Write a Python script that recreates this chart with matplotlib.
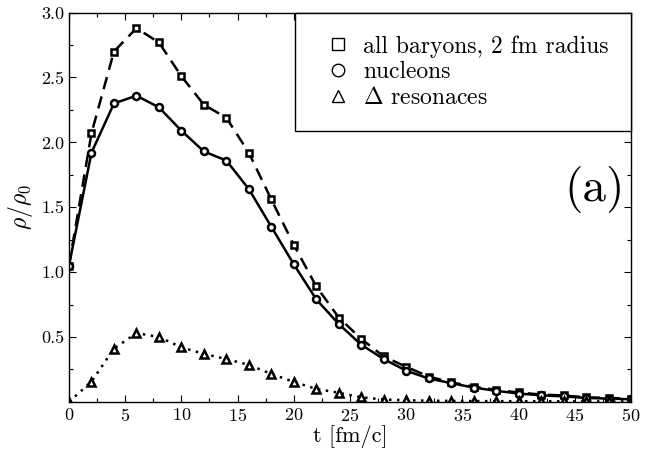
import matplotlib
matplotlib.use("Agg")
import matplotlib.pyplot as plt
from matplotlib.ticker import MultipleLocator
from matplotlib.lines import Line2D

plt.rcParams['font.family'] = ['cmr10', 'DejaVu Serif']
plt.rcParams['mathtext.fontset'] = 'cm'
plt.rcParams['axes.formatter.use_mathtext'] = True

t = list(range(0, 51, 2))
all_baryons = [1.05, 2.07, 2.70, 2.88, 2.77, 2.51, 2.29, 2.19, 1.92, 1.56,
               1.21, 0.89, 0.65, 0.485, 0.35, 0.27, 0.195, 0.15, 0.118, 0.092,
               0.072, 0.056, 0.049, 0.035, 0.03, 0.025]
nucleons = [1.05, 1.92, 2.30, 2.36, 2.27, 2.09, 1.93, 1.86, 1.64, 1.35,
            1.06, 0.79, 0.60, 0.44, 0.33, 0.24, 0.18, 0.144, 0.11, 0.085,
            0.064, 0.05, 0.042, 0.03, 0.025, 0.02]
delta = [0.0, 0.156, 0.41, 0.53, 0.50, 0.42, 0.37, 0.33, 0.285, 0.215,
         0.154, 0.10, 0.07, 0.035, 0.018, 0.012, 0.009, 0.007, 0.006, 0.005,
         0.005, 0.004, 0.004, 0.003, 0.003, 0.003]

fig = plt.figure(figsize=(6.52, 4.51), dpi=100)
ax = fig.add_axes([0.1058, 0.109, 0.862, 0.863])

mk = dict(markerfacecolor='white', markeredgecolor='black', markeredgewidth=1.8,
          color='black', linewidth=1.8)
ax.plot(t, all_baryons, linestyle=(0, (5, 3)), marker='s', markersize=5, **mk)
ax.plot(t, nucleons, linestyle='-', marker='o', markersize=5, **mk)
ax.plot(t, delta, linestyle=(0, (1, 2.2)), marker='^', markersize=5.5, **mk)

ax.set_xlim(0, 50)
ax.set_ylim(0, 3.0)
ax.xaxis.set_major_locator(MultipleLocator(5))
ax.xaxis.set_minor_locator(MultipleLocator(2.5))
ax.set_yticks([0.5, 1.0, 1.5, 2.0, 2.5, 3.0])
ax.set_yticklabels(['0.5', '1.0', '1.5', '2.0', '2.5', '3.0'])
ax.yaxis.set_minor_locator(MultipleLocator(0.25))
ax.tick_params(which='both', direction='in', top=True, right=True, labelsize=13)
ax.tick_params(which='major', length=5, width=0.8)
ax.tick_params(which='minor', length=3, width=0.8)
for s in ax.spines.values():
    s.set_linewidth(1.0)

ax.set_xlabel('t [fm/c]', fontsize=16, labelpad=1)
ax.set_ylabel(r'$\rho/\rho_0$', fontsize=17, labelpad=4)

hmk = dict(color='black', linestyle='none', markerfacecolor='white',
           markeredgecolor='black', markeredgewidth=1.0, markersize=9)
handles = [Line2D([], [], marker='s', **hmk),
           Line2D([], [], marker='o', **hmk),
           Line2D([], [], marker='^', **hmk)]
labels = ['all baryons, 2 fm radius', 'nucleons', r'$\mathbf{\Delta}$ resonaces']
leg = ax.legend(handles, labels, loc='upper right', borderaxespad=0,
                fancybox=False, edgecolor='black', framealpha=1,
                fontsize=17, handlelength=1.75, handletextpad=0.2,
                labelspacing=0.15, borderpad=0.95)
leg.get_frame().set_linewidth(1.0)

ax.text(0.935, 0.545, '(a)', transform=ax.transAxes, fontsize=34,
        ha='center', va='center')

fig.savefig('out.png', dpi=100)
